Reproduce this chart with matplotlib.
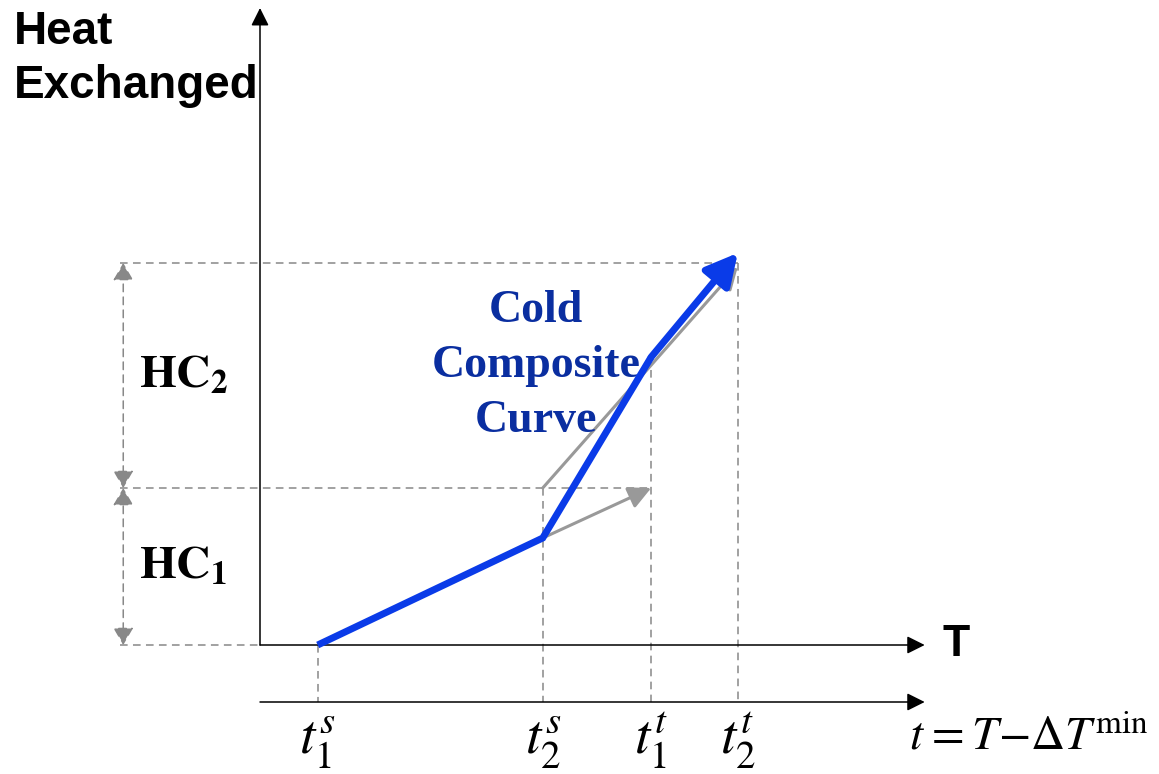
# -*- coding: utf-8 -*-
"""Cold composite curve sketch: heat exchanged vs shifted temperature."""
import matplotlib
matplotlib.use("Agg")
import matplotlib.pyplot as plt

plt.rcParams['mathtext.fontset'] = 'stix'

# shifted temperatures of the kinks and the cumulative heat of the composite curve
t_labels = [r"$t_1^s$", r"$t_2^s$", r"$t_1^t$", r"$t_2^t$"]
t_values = [1.0, 4.9, 6.78, 8.28]
composite_heat = [0.0, 1.07, 2.88, 3.92]

# heat-load boundaries of the two streams (HC1, HC2)
hc_levels = [0.0, 1.57, 3.82]
hc_labels = [r"$\mathbf{HC}_\mathbf{1}$", r"$\mathbf{HC}_\mathbf{2}$"]

# single stream lines: (t start, Q start, t end, Q end)
stream1 = [4.9, 1.07, 6.78, 1.57]
stream2 = [4.9, 1.57, 8.28, 3.78]

T_axis_end = 11.52
t_axis_y = -0.57
hc_arrow_x = -2.37
dash_left = -2.43

blue = '#0a3be8'
navy = '#0a2ea0'
gray = '#999999'
dgray = '#888888'

W, H = 1159, 774
fig = plt.figure(figsize=(W / 100, H / 100), dpi=100)
ax = fig.add_axes([0, 0, 1, 1])
ax.set_xlim(-260 / 57.7, 899 / 57.7)
ax.set_ylim(-129 / 100, 645 / 100)
ax.axis('off')

def arrow(ax, start, end, color, lw, style, ms, ls='-', z=2):
    ax.annotate('', xy=end, xytext=start,
                arrowprops=dict(arrowstyle=style, color=color, lw=lw, ls=ls,
                                mutation_scale=ms, shrinkA=0, shrinkB=0),
                zorder=z)

# dashed guide lines
dash = dict(color=dgray, lw=1.1, ls=(0, (5, 3.5)), zorder=1)
ax.plot([dash_left, 0], [hc_levels[0]] * 2, **dash)
ax.plot([dash_left, t_values[2]], [hc_levels[1]] * 2, **dash)
ax.plot([dash_left, t_values[3]], [hc_levels[2]] * 2, **dash)
ax.plot([t_values[0]] * 2, [0, t_axis_y], **dash)
ax.plot([t_values[1]] * 2, [hc_levels[1], t_axis_y], **dash)
ax.plot([t_values[2]] * 2, [composite_heat[2], t_axis_y], **dash)
ax.plot([t_values[3]] * 2, [hc_levels[2], t_axis_y], **dash)

# HC double arrows
for lo, hi in zip(hc_levels[:-1], hc_levels[1:]):
    arrow(ax, (hc_arrow_x, lo), (hc_arrow_x, hi), dgray, 1.1,
          '<|-|>,head_length=0.6,head_width=0.35', 18, ls=(0, (5, 3.5)))

# axes
axis_style = '-|>,head_length=0.6,head_width=0.3'
arrow(ax, (0, 0), (0, 6.37), 'black', 1.1, axis_style, 18)
arrow(ax, (0, 0), (T_axis_end, 0), 'black', 1.1, axis_style, 18)
arrow(ax, (0, t_axis_y), (T_axis_end, t_axis_y), 'black', 1.1, axis_style, 18)

# single stream arrows
gstyle = '-|>,head_length=0.85,head_width=0.42'
arrow(ax, stream1[:2], stream1[2:], gray, 2.2, gstyle, 16, z=3)
arrow(ax, stream2[:2], stream2[2:], gray, 2.2, gstyle, 16, z=3)

# composite curve
ax.plot(t_values[:3], composite_heat[:3], color=blue, lw=5,
        solid_capstyle='butt', solid_joinstyle='miter', zorder=4)
arrow(ax, (t_values[2], composite_heat[2]), (t_values[3], composite_heat[3]),
      blue, 5, '-|>,head_length=0.8,head_width=0.42', 24, z=4)

# texts
fig.text(14 / W, 1 - 10 / H, "Heat\nExchanged", fontsize=33, fontweight='bold',
         family='Liberation Sans', ha='left', va='top', linespacing=1.3)
ax.text(T_axis_end + 0.3, 0, "T", fontsize=32, fontweight='bold',
        family='Liberation Sans', ha='left', va='center')
for lo, hi, lab in zip(hc_levels[:-1], hc_levels[1:], hc_labels):
    ax.text(-2.1, (lo + hi) / 2, lab, fontsize=34, ha='left', va='center')
ax.text(4.78, 2.79, "Cold\nComposite\nCurve", fontsize=33, fontweight='bold',
        family='Liberation Serif', color=navy, ha='center', va='center',
        multialignment='center', linespacing=1.42)
for t, lab in zip(t_values, t_labels):
    ax.text(t, -1.09, lab, fontsize=40, ha='center', va='baseline')
ax.text(11.24, -1.04,
        r"$t\hspace{0.06}{=}\hspace{0.03}T\hspace{0.02}{-}\Delta T^{\mathrm{min}}$",
        fontsize=34, ha='left', va='baseline')

fig.savefig("out.png", dpi=100)
